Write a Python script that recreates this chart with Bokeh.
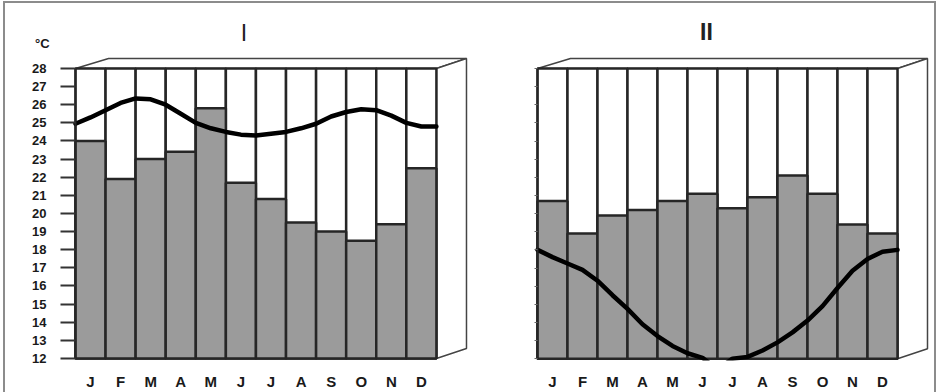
import numpy as np
from bokeh.plotting import figure
from bokeh.models import Range1d, FixedTicker, Label
from bokeh.layouts import row
from bokeh.embed import file_html
from bokeh.resources import INLINE

# ---- data ----
months = ["J", "F", "M", "A", "M", "J", "J", "A", "S", "O", "N", "D"]
values_I = [24.0, 21.9, 23.0, 23.4, 25.8, 21.7, 20.8, 19.5, 19.0, 18.5, 19.4, 22.5]
values_II = [20.7, 18.9, 19.9, 20.2, 20.7, 21.1, 20.3, 20.9, 22.1, 21.1, 19.4, 18.9]
# curve read every half month (position in month units from the left edge)
curve_pos = [0, 0.5, 1, 1.5, 2, 2.5, 3, 3.5, 4, 4.5, 5, 5.5, 6,
             6.5, 7, 7.5, 8, 8.5, 9, 9.5, 10, 10.5, 11, 11.5, 12]
curve_I = [24.95, 25.3, 25.7, 26.1, 26.35, 26.3, 26.0, 25.5, 25.0, 24.7, 24.5, 24.35, 24.3,
           24.4, 24.5, 24.7, 24.95, 25.35, 25.6, 25.75, 25.7, 25.4, 25.0, 24.8, 24.8]
curve_II = [18.0, 17.6, 17.25, 16.9, 16.3, 15.5, 14.75, 13.9, 13.25, 12.7, 12.3, 12.05, 11.4,
            12.0, 12.1, 12.45, 12.9, 13.45, 14.1, 14.9, 15.9, 16.85, 17.5, 17.9, 18.0]
y_ticks = [12, 13, 14, 15, 16, 17, 18, 19, 20, 21, 22, 23, 24, 25, 26, 27, 28]
Y_LOW, Y_HIGH = 12, 28

GRAY = "#9b9b9b"
EDGE = "#262626"
FONT = "Liberation Sans"


def make_panel(values, curve, title, title_bold, title_x, title_y,
               with_labels, x_start, fw, y_start, fh, x_standoff, bottom_border):
    n = len(values)
    p = figure(frame_width=fw, frame_height=fh,
               x_range=Range1d(x_start, n + 1.2), y_range=Range1d(y_start, 31.2),
               output_backend="svg", toolbar_location=None,
               min_border_left=3, min_border_right=1,
               min_border_top=7, min_border_bottom=bottom_border)
    p.grid.visible = False
    p.outline_line_color = None

    centers = np.arange(n) + 0.5
    # 3D box: top and right faces
    dx, dy, dxl = 1.0, 0.55, 1.1
    p.patch([0, n, n + dx, dxl], [Y_HIGH, Y_HIGH, Y_HIGH + dy, Y_HIGH + dy],
            fill_color="white", line_color="#444444", line_width=1.5)
    p.patch([n, n + dx, n + dx, n], [Y_LOW, Y_LOW + dy, Y_HIGH + dy, Y_HIGH],
            fill_color="white", line_color="#444444", line_width=1.5)
    # white full-height columns, then the gray values
    p.vbar(x=centers, bottom=Y_LOW, top=Y_HIGH, width=1, fill_color="white",
           line_color=EDGE, line_width=2.5)
    p.vbar(x=centers, bottom=Y_LOW, top=values, width=1, fill_color=GRAY,
           line_color=EDGE, line_width=2.5)
    p.line(curve_pos, curve, line_color="black", line_width=4.5,
           line_join="round", line_cap="round")

    # x axis: month letters
    p.xaxis.ticker = FixedTicker(ticks=list(centers))
    p.xaxis.major_label_overrides = {float(c): m for c, m in zip(centers, months)}
    p.xaxis.axis_line_color = None
    p.xaxis.major_tick_line_color = None
    p.xaxis.major_tick_out = 0
    p.xaxis.major_tick_in = 0
    p.xaxis.minor_tick_line_color = None
    p.xaxis.major_label_standoff = x_standoff
    p.xaxis.major_label_text_font = FONT
    p.xaxis.major_label_text_font_style = "bold"
    p.xaxis.major_label_text_font_size = "15px"
    p.xaxis.major_label_text_color = "#1a1a1a"

    # y axis sits on the left face of the box (x = 0)
    p.yaxis.fixed_location = 0
    p.yaxis.ticker = FixedTicker(ticks=y_ticks)
    p.yaxis.bounds = (Y_LOW, Y_HIGH)
    p.yaxis.axis_line_color = EDGE
    p.yaxis.axis_line_width = 2
    p.yaxis.minor_tick_line_color = None
    p.yaxis.major_tick_in = 0
    p.yaxis.major_label_text_font = FONT
    p.yaxis.major_label_text_font_style = "bold"
    p.yaxis.major_label_text_font_size = "13px"
    p.yaxis.major_label_text_color = "#1a1a1a"
    if with_labels:
        p.yaxis.major_tick_out = 15
        p.yaxis.major_tick_line_width = 2
        p.yaxis.major_tick_line_color = "#333333"
        p.yaxis.major_label_standoff = 14
        p.add_layout(Label(x=-1.1, y=29.37, text="°C", text_font=FONT,
                           text_font_style="bold", text_font_size="13px",
                           text_align="center", text_baseline="middle",
                           text_color="#1a1a1a"))
    else:
        p.yaxis.major_tick_out = 3
        p.yaxis.major_tick_line_width = 1
        p.yaxis.major_tick_line_color = "#666666"
        p.yaxis.major_label_overrides = {t: "" for t in y_ticks}

    p.add_layout(Label(x=title_x, y=title_y, text=title, text_font=FONT,
                       text_font_style="bold" if title_bold else "normal",
                       text_font_size="23px", text_align="center",
                       text_baseline="middle", text_color="#222222"))
    return p


pA = make_panel(values_I, curve_I, "I", False, 5.6, 29.97, True, -2.227, 464,
                11.5, 357, 5, 20)
pB = make_panel(values_II, curve_II, "II", True, 5.63, 30.03, False, -2.033, 457,
                11.9, 350, 12, 27)

layout = row(pA, pB, margin=(1, 0, 0, 3), styles={"border": "2px solid #8c8c8c"})
open("out.html", "w").write(file_html(layout, INLINE))
